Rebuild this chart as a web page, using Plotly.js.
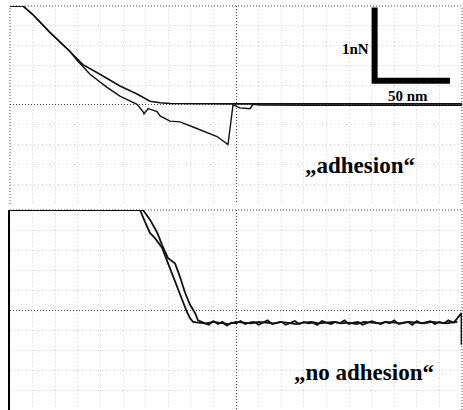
<!DOCTYPE html>
<html><head><meta charset="utf-8">
<script src="https://cdn.plot.ly/plotly-3.0.1.min.js"></script>
<style>html,body{margin:0;padding:0;background:#fff;}</style>
</head><body><div id="chart" style="width:463px;height:410px;"></div>
<script>
// ---- Top panel: "adhesion" (x in nm, y in nN) ----
const adhApproachX = [0, 8.6, 15.3, 26.5, 39.8, 48.4, 59.7, 73.0, 84.3, 92.9, 99.6, 106.2, 150, 200, 250, 300];
const adhApproachY = [1.35, 1.35, 1.23, 0.99, 0.73, 0.55, 0.42, 0.26, 0.15, 0.05, 0.03, 0.02, 0.015, 0.015, 0.015, 0.015];

const adhRetractX = [0, 8.6, 15.3, 26.5, 39.8, 44.5, 53.1, 64.4, 73.0, 84.3, 88.3, 88.9, 90.9, 91.6, 97.6, 99.6, 106.2, 112.8, 121.5, 128.1, 137.4, 144.7, 147.3, 148.0, 152.6, 159.3, 161.3, 165.9, 200, 250, 300];
const adhRetractY = [1.35, 1.35, 1.23, 0.99, 0.73, 0.61, 0.42, 0.24, 0.12, 0.01, -0.09, -0.12, -0.07, -0.05, -0.09, -0.15, -0.22, -0.23, -0.30, -0.35, -0.43, -0.54, -0.05, 0.0, -0.04, -0.05, 0.01, 0.0, -0.005, -0.005, -0.005];

// ---- Bottom panel: "no adhesion" ----
const noAdhApproachX = [0, 86.3, 89.6, 92.9, 96.2, 100.9, 104.9, 108.2, 111.5, 114.8, 117.5, 119.5, 121.5];
const noAdhApproachY = [1.35, 1.35, 1.19, 1.04, 0.97, 0.84, 0.63, 0.45, 0.27, 0.11, -0.03, -0.11, -0.16];
const noAdhApproachFlatX = [125,130,135,140,145,150,155,160,165,170,175,180,185,190,195,200,205,210,215,220,225,230,235,240,245,250,255,260,265,270,275,280,285,290,295,299.6,299.7,299.8];
const noAdhApproachFlatY = [-0.17,-0.18,-0.16,-0.17,-0.19,-0.16,-0.17,-0.18,-0.16,-0.17,
  -0.18,-0.16,-0.17,-0.19,-0.17,-0.16,-0.18,-0.17,-0.16,-0.18,
  -0.17,-0.19,-0.16,-0.17,-0.18,-0.16,-0.17,-0.18,-0.16,-0.17,
  -0.18,-0.16,-0.17,-0.18,-0.16,-0.04,-0.47,-0.20];

const noAdhRetractX = [0, 88.3, 92.9, 97.6, 100.9, 104.9, 109.5, 112.8, 116.1, 119.5, 122.8, 124.8, 129.4];
const noAdhRetractY = [1.35, 1.35, 1.22, 1.05, 0.88, 0.70, 0.63, 0.45, 0.24, 0.07, -0.04, -0.14, -0.18];
const noAdhRetractFlatX = [132,135,138,141,144,147,150,153,156,159,162,165,168,171,174,177,180,183,186,189,192,195,198,201,204,207,210,213,216,219,222,225,228,231,234,237,240,243,246,249,252,255,258,261,264,267,270,273,276,279,282,285,288,291,294,297];
const noAdhRetractFlatY = [-0.20,-0.15,-0.19,-0.16,-0.21,-0.17,-0.18,-0.15,-0.19,-0.17,
  -0.16,-0.20,-0.17,-0.14,-0.19,-0.18,-0.16,-0.20,-0.17,-0.15,
  -0.19,-0.16,-0.18,-0.17,-0.20,-0.15,-0.17,-0.19,-0.16,-0.18,
  -0.14,-0.19,-0.17,-0.16,-0.20,-0.18,-0.15,-0.17,-0.19,-0.16,
  -0.18,-0.14,-0.19,-0.17,-0.16,-0.20,-0.15,-0.18,-0.17,-0.15,
  -0.19,-0.16,-0.18,-0.14,-0.17,-0.16];

// ---- Scale bar ----
const scaleBarNm = 50;
const scaleBarNN = 1;
const scaleBarOriginX = 242;
const scaleBarOriginY = 0.33;
const scaleLabels = ['1nN', '50 nm'];
const panelLabels = ['„adhesion“', '„no adhesion“'];

const serif = 'Liberation Serif, Times New Roman, serif';
const lineStyle = (w) => ({color: '#111', width: w});

const traces = [
  {x: adhApproachX, y: adhApproachY, xaxis: 'x', yaxis: 'y', mode: 'lines', line: lineStyle(1.6), hoverinfo: 'skip'},
  {x: adhRetractX, y: adhRetractY, xaxis: 'x', yaxis: 'y', mode: 'lines', line: lineStyle(1.4), hoverinfo: 'skip'},
  {x: [scaleBarOriginX, scaleBarOriginX, scaleBarOriginX + scaleBarNm],
   y: [scaleBarOriginY + scaleBarNN, scaleBarOriginY, scaleBarOriginY],
   xaxis: 'x', yaxis: 'y', mode: 'lines', line: {color: '#000', width: 6}, hoverinfo: 'skip'},
  {x: noAdhApproachX.concat(noAdhApproachFlatX), y: noAdhApproachY.concat(noAdhApproachFlatY),
   xaxis: 'x2', yaxis: 'y2', mode: 'lines', line: lineStyle(1.8), hoverinfo: 'skip'},
  {x: noAdhRetractX.concat(noAdhRetractFlatX), y: noAdhRetractY.concat(noAdhRetractFlatY),
   xaxis: 'x2', yaxis: 'y2', mode: 'lines', line: lineStyle(1.8), hoverinfo: 'skip'}
];

const gridMajor = {showgrid: true, gridcolor: '#444', griddash: '1px,2px', gridwidth: 1};
const gridMinor = {showgrid: true, gridcolor: '#cfcfcf', griddash: '1px,3px', gridwidth: 1};
const xAxisBase = Object.assign({range: [0, 300], tick0: 0, dtick: 150, showticklabels: false, ticks: '', zeroline: false, showline: false,
  minor: Object.assign({tick0: 0, dtick: 15}, gridMinor)}, gridMajor);
const yAxisBase = Object.assign({range: [-1.35, 1.35], tick0: 0, dtick: 1.35, showticklabels: false, ticks: '', zeroline: false, showline: false,
  minor: Object.assign({tick0: 0, dtick: 0.27}, gridMinor)}, gridMajor);

const borderLine = {color: '#444', width: 1, dash: '1px,2px'};
const layout = {
  width: 463, height: 410,
  margin: {l: 10, r: 1, t: 6, b: 0},
  paper_bgcolor: '#fff', plot_bgcolor: '#fff',
  showlegend: false,
  xaxis: Object.assign({}, xAxisBase, {anchor: 'y', domain: [0, 1]}),
  yaxis: Object.assign({}, yAxisBase, {anchor: 'x', domain: [0.51, 1]}),
  xaxis2: Object.assign({}, xAxisBase, {anchor: 'y2', domain: [0, 1]}),
  yaxis2: Object.assign({}, yAxisBase, {anchor: 'x2', domain: [0, 0.495], showline: true, linecolor: '#000', linewidth: 2}),
  shapes: [
    {type: 'line', xref: 'x domain', yref: 'y domain', x0: 0, x1: 1, y0: 1, y1: 1, line: borderLine, layer: 'below'},
    {type: 'line', xref: 'x domain', yref: 'y domain', x0: 0, x1: 0, y0: 0, y1: 1, line: borderLine, layer: 'below'},
    {type: 'line', xref: 'x domain', yref: 'y domain', x0: 1, x1: 1, y0: 0, y1: 1, line: borderLine, layer: 'below'},
    {type: 'line', xref: 'x2 domain', yref: 'y2 domain', x0: 0, x1: 1, y0: 1, y1: 1, line: borderLine, layer: 'below'},
    {type: 'line', xref: 'x2 domain', yref: 'y2 domain', x0: 1, x1: 1, y0: 0, y1: 1, line: borderLine, layer: 'below'}
  ],
  annotations: [
    {xref: 'x', yref: 'y', x: 239.6, y: 0.77, text: scaleLabels[0], showarrow: false, xanchor: 'right', yanchor: 'middle',
     font: {family: serif, size: 15, color: '#000', weight: 700}},
    {xref: 'x', yref: 'y', x: 264, y: 0.12, text: scaleLabels[1], showarrow: false, xanchor: 'center', yanchor: 'middle',
     font: {family: serif, size: 15, color: '#000', weight: 700}},
    {xref: 'x', yref: 'y', x: 232, y: -0.82, text: panelLabels[0], showarrow: false, xanchor: 'center', yanchor: 'middle',
     font: {family: serif, size: 23, color: '#000', weight: 700}},
    {xref: 'x2', yref: 'y2', x: 235, y: -0.84, text: panelLabels[1], showarrow: false, xanchor: 'center', yanchor: 'middle',
     font: {family: serif, size: 23, color: '#000', weight: 700}}
  ]
};

Plotly.newPlot('chart', traces, layout, {displayModeBar: false, staticPlot: true});
</script>
</body></html>
